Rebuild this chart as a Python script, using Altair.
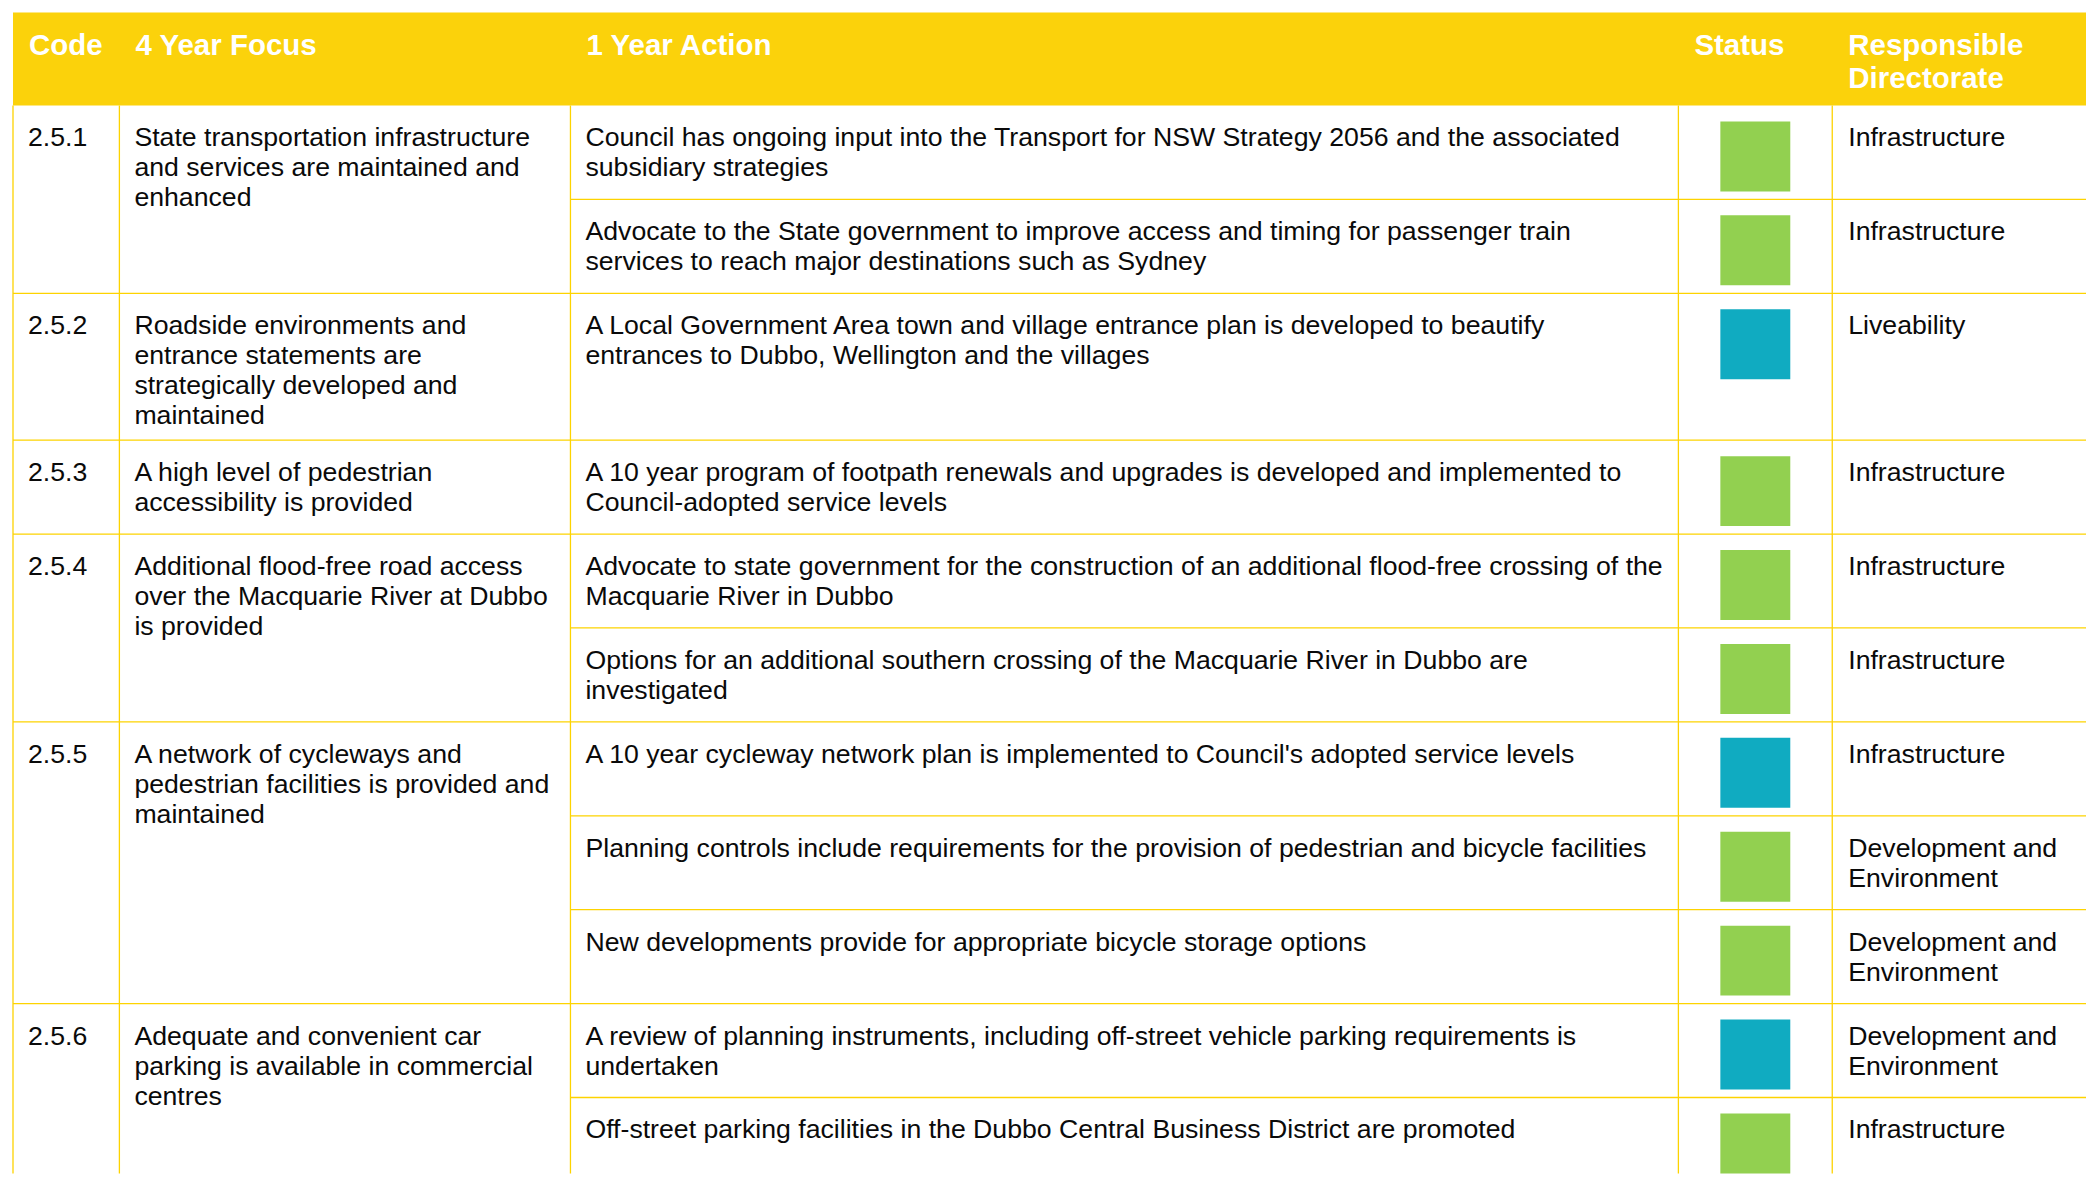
import altair as alt
import pandas as pd

# ---------------- data ----------------
codes = ["2.5.1", "2.5.2", "2.5.3", "2.5.4", "2.5.5", "2.5.6"]
focus = [
    "State transportation infrastructure\nand services are maintained and\nenhanced",
    "Roadside environments and\nentrance statements are\nstrategically developed and\nmaintained",
    "A high level of pedestrian\naccessibility is provided",
    "Additional flood-free road access\nover the Macquarie River at Dubbo\nis provided",
    "A network of cycleways and\npedestrian facilities is provided and\nmaintained",
    "Adequate and convenient car\nparking is available in commercial\ncentres",
]
action_code = ["2.5.1", "2.5.1", "2.5.2", "2.5.3", "2.5.4", "2.5.4",
               "2.5.5", "2.5.5", "2.5.5", "2.5.6", "2.5.6"]
actions = [
    "Council has ongoing input into the Transport for NSW Strategy 2056 and the associated\nsubsidiary strategies",
    "Advocate to the State government to improve access and timing for passenger train\nservices to reach major destinations such as Sydney",
    "A Local Government Area town and village entrance plan is developed to beautify\nentrances to Dubbo, Wellington and the villages",
    "A 10 year program of footpath renewals and upgrades is developed and implemented to\nCouncil-adopted service levels",
    "Advocate to state government for the construction of an additional flood-free crossing of the\nMacquarie River in Dubbo",
    "Options for an additional southern crossing of the Macquarie River in Dubbo are\ninvestigated",
    "A 10 year cycleway network plan is implemented to Council's adopted service levels",
    "Planning controls include requirements for the provision of pedestrian and bicycle facilities",
    "New developments provide for appropriate bicycle storage options",
    "A review of planning instruments, including off-street vehicle parking requirements is\nundertaken",
    "Off-street parking facilities in the Dubbo Central Business District are promoted",
]
status = ["green", "green", "blue", "green", "green", "green",
          "blue", "green", "green", "blue", "green"]
directorate = [
    "Infrastructure", "Infrastructure", "Liveability", "Infrastructure",
    "Infrastructure", "Infrastructure", "Infrastructure",
    "Development and\nEnvironment", "Development and\nEnvironment",
    "Development and\nEnvironment", "Infrastructure",
]
headers = ["Code", "4 Year Focus", "1 Year Action", "Status", "Responsible\nDirectorate"]

# ---------------- layout / style ----------------
W, H = 2080, 1166          # plot area
OX, OY = 8, 8              # page offset of plot area
col_edges = [13, 119.5, 571, 1680, 1834, 2100]
table_top, header_h = 12, 93
pad_x, first_base, line_h, row_min = 15, 41, 30, 94
sq_top, sq = 16, 70
YELLOW = "#FBD20B"
LINE = "#FDD300"
FONT = "Liberation Sans"

# build cells
header_bottom = table_top + header_h
text_rows, rule_rows, sq_rows = [], [], []

for i, h in enumerate(headers):
    text_rows.append(dict(x=col_edges[i] + pad_x + 1, y=table_top + 42, t=h, kind="head"))

y = header_bottom
for c, f in zip(codes, focus):
    idx = [k for k, a in enumerate(action_code) if a == c]
    n_focus = f.count("\n") + 1
    heights = [row_min] * len(idx)
    need = n_focus * line_h + 27
    if sum(heights) < need:
        heights[-1] += need - sum(heights)
    gtop = y
    text_rows.append(dict(x=col_edges[0] + pad_x, y=gtop + first_base, t=c, kind="body"))
    text_rows.append(dict(x=col_edges[1] + pad_x, y=gtop + first_base, t=f, kind="body"))
    for j, (k, hh) in enumerate(zip(idx, heights)):
        text_rows.append(dict(x=col_edges[2] + pad_x, y=y + first_base, t=actions[k], kind="body"))
        text_rows.append(dict(x=col_edges[4] + pad_x + 1, y=y + first_base, t=directorate[k], kind="body"))
        cx = (col_edges[3] + col_edges[4]) / 2
        sq_rows.append(dict(x=cx - sq / 2, x2=cx + sq / 2, y=y + sq_top, y2=y + sq_top + sq, s=status[k]))
        y += hh
        last = j == len(idx) - 1
        rule_rows.append(dict(x=col_edges[0] if last else col_edges[2], x2=col_edges[-1], y=y, y2=y))

for e in col_edges[:5]:
    rule_rows.append(dict(x=e, x2=e, y=header_bottom, y2=y + 50))

texts = pd.DataFrame(text_rows)
rules = pd.DataFrame(rule_rows)
squares = pd.DataFrame(sq_rows)
header = pd.DataFrame([dict(x=col_edges[0], x2=col_edges[-1], y=table_top, y2=header_bottom)])

xs = alt.Scale(domain=[OX, OX + W], nice=False, zero=False)
ys = alt.Scale(domain=[OY, OY + H], nice=False, zero=False, reverse=True)

def X(f="x"):
    return alt.X(f + ":Q", scale=xs, axis=None)

def Y(f="y"):
    return alt.Y(f + ":Q", scale=ys, axis=None)

head_rect = alt.Chart(header).mark_rect(color=YELLOW, clip=True).encode(
    x=X(), x2="x2:Q", y=Y(), y2="y2:Q")

grid = alt.Chart(rules).mark_rule(color=LINE, strokeWidth=1.3, clip=True).encode(
    x=X(), x2="x2:Q", y=Y(), y2="y2:Q")

boxes = alt.Chart(squares).mark_rect(clip=True).encode(
    x=X(), x2="x2:Q", y=Y(), y2="y2:Q",
    color=alt.Color("s:N", scale=alt.Scale(domain=["green", "blue"], range=["#92D050", "#10ABC1"]), legend=None),
)

head_text = alt.Chart(texts[texts.kind == "head"]).mark_text(
    align="left", baseline="alphabetic", font=FONT, fontSize=29.5, fontWeight="bold",
    color="white", lineBreak="\n", lineHeight=34, clip=True,
).encode(x=X(), y=Y(), text="t:N")

body_text = alt.Chart(texts[texts.kind == "body"]).mark_text(
    align="left", baseline="alphabetic", font=FONT, fontSize=26.7,
    color="#0a0a0a", lineBreak="\n", lineHeight=30, clip=True,
).encode(x=X(), y=Y(), text="t:N")

chart = alt.layer(head_rect, grid, boxes, head_text, body_text).properties(
    width=W, height=H, padding=0, autosize=alt.AutoSizeParams(type="none"),
).configure_view(stroke=None)

chart.save("out.html", embed_options={"renderer": "svg", "actions": False})
